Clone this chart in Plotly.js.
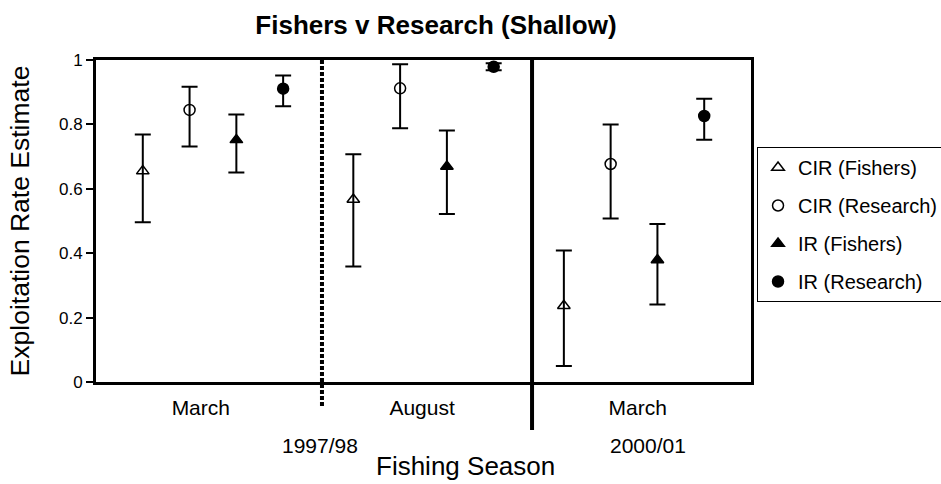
<!DOCTYPE html>
<html>
<head>
<meta charset="utf-8">
<script src="https://cdn.plot.ly/plotly-3.0.1.min.js"></script>
<style>html,body{margin:0;padding:0;background:#fff;}</style>
</head>
<body>
<div id="chart" style="width:941px;height:484px;"></div>
<script>
// ---- Data ----
var monthLabels = ['March', 'August', 'March'];
var monthPos = [2.24, 6.97, 11.58];
var yearLabels = ['1997/98', '2000/01'];
var yearPos = [4.79, 11.8];
var seriesNames = ['CIR (Fishers)', 'CIR (Research)', 'IR (Fishers)', 'IR (Research)'];

var cirFishersX = [1, 5.5, 10];
var cirFishers = [0.655, 0.567, 0.237];
var cirFishersHi = [0.769, 0.707, 0.408];
var cirFishersLo = [0.496, 0.359, 0.050];

var cirResearchX = [2, 6.5, 11];
var cirResearch = [0.845, 0.912, 0.677];
var cirResearchHi = [0.917, 0.987, 0.800];
var cirResearchLo = [0.731, 0.788, 0.508];

var irFishersX = [3, 7.5, 12];
var irFishers = [0.752, 0.669, 0.379];
var irFishersHi = [0.831, 0.781, 0.491];
var irFishersLo = [0.651, 0.522, 0.241];

var irResearchX = [4, 8.5, 13];
var irResearch = [0.911, 0.979, 0.826];
var irResearchHi = [0.952, 0.990, 0.880];
var irResearchLo = [0.856, 0.968, 0.752];

var yTickVals = [0, 0.2, 0.4, 0.6, 0.8, 1];
var yTickText = ['0', '0.2', '0.4', '0.6', '0.8', '1'];

// ---- Build traces ----
var FONT = 'Liberation Sans, Arial, sans-serif';
function diff(a, b) { return a.map(function (v, i) { return v - b[i]; }); }
function mk(name, x, y, hi, lo, symbol, group) {
  return {
    type: 'scatter', mode: 'markers', name: name, x: x, y: y,
    legendgroup: group,
    marker: { symbol: symbol, size: 11, color: '#000', line: { color: '#000', width: 1.5 } },
    error_y: { type: 'data', symmetric: false, array: diff(hi, y), arrayminus: diff(y, lo),
               color: '#000', thickness: 2, width: 8 }
  };
}
var traces = [
  mk(seriesNames[0], cirFishersX, cirFishers, cirFishersHi, cirFishersLo, 'triangle-up-open', 'g1'),
  mk(seriesNames[1], cirResearchX, cirResearch, cirResearchHi, cirResearchLo, 'circle-open', 'g2'),
  mk(seriesNames[2], irFishersX, irFishers, irFishersHi, irFishersLo, 'triangle-up', 'g3'),
  mk(seriesNames[3], irResearchX, irResearch, irResearchHi, irResearchLo, 'circle', 'g4')
];

var annotations = yearLabels.map(function (t, i) {
  return { text: t, x: yearPos[i], xref: 'x', y: -0.196, yref: 'paper',
           xanchor: 'center', yanchor: 'middle', showarrow: false,
           font: { family: FONT, size: 21, color: '#000' } };
});
annotations.push({ text: 'Fishing Season', x: 0.5634, xref: 'paper', y: -0.261, yref: 'paper',
  xanchor: 'center', yanchor: 'middle', showarrow: false,
  font: { family: FONT, size: 26, color: '#000' } });

var layout = {
  width: 941, height: 484,
  margin: { l: 96, r: 190, t: 60, b: 102, autoexpand: false },
  paper_bgcolor: '#fff', plot_bgcolor: '#fff',
  font: { family: FONT, color: '#000' },
  title: { text: 'Fishers v Research (Shallow)', x: 0.4633, xref: 'container', xanchor: 'center',
           y: 0.948, yref: 'container', yanchor: 'middle',
           font: { family: FONT, size: 26, weight: 700, color: '#000' } },
  xaxis: {
    range: [0, 14], showgrid: false, zeroline: false,
    showline: true, linecolor: '#000', linewidth: 3, mirror: true,
    tickmode: 'array', tickvals: monthPos, ticktext: monthLabels,
    ticks: 'outside', ticklen: 5, tickcolor: 'rgba(0,0,0,0)',
    tickfont: { family: FONT, size: 21, color: '#000' }
  },
  yaxis: {
    range: [0, 1], showgrid: false, zeroline: false,
    showline: true, linecolor: '#000', linewidth: 3, mirror: true,
    tickmode: 'array', tickvals: yTickVals, ticktext: yTickText,
    ticks: 'outside', ticklen: 7, tickwidth: 2, tickcolor: '#000',
    tickfont: { family: FONT, size: 17, color: '#000' },
    title: { text: 'Exploitation Rate Estimate', standoff: 22,
             font: { family: FONT, size: 26.5, color: '#000' } }
  },
  showlegend: true,
  legend: {
    x: 1.0092, xanchor: 'left', y: 0.7298, yanchor: 'top',
    bordercolor: '#000', borderwidth: 1, bgcolor: '#fff',
    traceorder: 'grouped', tracegroupgap: 9,
    font: { family: FONT, size: 20, color: '#000' }
  },
  shapes: [
    { type: 'line', xref: 'x', yref: 'paper', x0: 4.83, x1: 4.83, y0: 1, y1: -0.078,
      line: { color: '#000', width: 4, dash: '4px,2px' } },
    { type: 'line', xref: 'x', yref: 'paper', x0: 9.32, x1: 9.32, y0: 1, y1: -0.149,
      line: { color: '#000', width: 4 } }
  ],
  annotations: annotations
};

Plotly.newPlot('chart', traces, layout, { displayModeBar: false, staticPlot: true });
</script>
</body>
</html>
